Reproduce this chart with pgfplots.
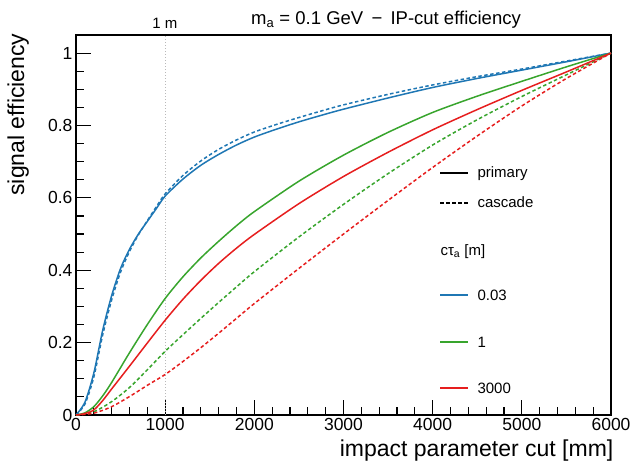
\documentclass[border=0pt]{standalone}
\usepackage{pgfplots}
\pgfplotsset{compat=1.18}
\usepackage{fontspec}
\setmainfont{Liberation Sans}
\definecolor{cblue}{RGB}{31,119,180}
\definecolor{cgreen}{RGB}{56,165,45}
\definecolor{cred}{RGB}{230,30,30}
\begin{document}
\begin{tikzpicture}
\useasboundingbox (-76pt,-51pt) rectangle (555pt,415pt);
\begin{axis}[
  at={(0pt,0pt)}, anchor=south west,
  scale only axis, width=535pt, height=380pt,
  xmin=0, xmax=6000, ymin=0, ymax=1.05,
  xtick={0,1000,...,6000}, ytick={0,0.2,...,1.0},
  minor x tick num=4, minor y tick num=3,
  xtick pos=bottom, ytick pos=left,
  tick align=inside,
  major tick length=15pt, minor tick length=8pt,
  every tick/.style={black, line width=1.1pt},
  axis line style={line width=1.3pt},
  scaled x ticks=false,
  /pgf/number format/assume math mode=true,
  xticklabel style={font=\fontsize{17.5}{20}\selectfont, /pgf/number format/1000 sep={}},
  yticklabel style={font=\fontsize{17.5}{20}\selectfont},
  yticklabel={\pgfmathprintnumber[fixed,precision=1]{\tick}},
  xlabel={impact parameter cut [mm]},
  ylabel={signal efficiency},
  label style={font=\fontsize{23}{26}\selectfont},
  xlabel style={at={(axis description cs:1.011,-0.1105)}, anchor=base east},
  ylabel style={at={(axis description cs:-0.097,1.013)}, anchor=base east},
  clip=true,
  every axis plot/.append style={smooth, tension=0.45, line join=round},
]
\addplot[gray!55, dotted, line width=1pt, sharp plot] coordinates {(1000,0) (1000,1.05)};

\addplot[cblue, line width=1.5pt, dash pattern=on 3.5pt off 2.5pt] coordinates {
(0,0) (100,0.03) (200,0.105) (300,0.222) (400,0.318) (500,0.395) (600,0.452) (700,0.498) (800,0.537) (900,0.575) (1000,0.611) (1200,0.662) (1400,0.702) (1600,0.734) (1800,0.76) (2000,0.782) (2250,0.803) (2500,0.822) (2750,0.84) (3000,0.857) (3500,0.886) (4000,0.912) (4500,0.935) (5000,0.956) (5500,0.978) (6000,1.0)};
\addplot[cgreen, line width=1.5pt, dash pattern=on 3.5pt off 2.5pt] coordinates {
(0,0) (200,0.009) (400,0.037) (600,0.076) (800,0.125) (1000,0.176) (1200,0.222) (1400,0.267) (1600,0.311) (1800,0.354) (2000,0.396) (2500,0.492) (3000,0.582) (3500,0.667) (4000,0.746) (4500,0.816) (5000,0.88) (5500,0.94) (6000,1.0)};
\addplot[cred, line width=1.5pt, dash pattern=on 3.5pt off 2.5pt] coordinates {
(0,0) (200,0.005) (400,0.023) (600,0.051) (800,0.082) (1000,0.112) (1200,0.148) (1400,0.186) (1600,0.226) (1800,0.267) (2000,0.308) (2500,0.405) (3000,0.5) (3500,0.593) (4000,0.684) (4500,0.771) (5000,0.854) (5500,0.93) (6000,1.0)};

\addplot[cblue, line width=1.5pt] coordinates {
(0,0) (100,0.035) (200,0.116) (300,0.235) (400,0.33) (500,0.405) (600,0.458) (700,0.50) (800,0.535) (900,0.57) (1000,0.605) (1200,0.652) (1400,0.69) (1600,0.72) (1800,0.746) (2000,0.768) (2250,0.79) (2500,0.81) (2750,0.828) (3000,0.845) (3500,0.876) (4000,0.905) (4500,0.93) (5000,0.953) (5500,0.976) (6000,1.0)};
\addplot[cgreen, line width=1.5pt] coordinates {
(0,0) (100,0.006) (200,0.023) (300,0.053) (400,0.09) (600,0.172) (800,0.25) (1000,0.322) (1200,0.382) (1400,0.434) (1600,0.48) (1800,0.523) (2000,0.562) (2500,0.646) (3000,0.718) (3500,0.781) (4000,0.836) (4500,0.881) (5000,0.922) (5500,0.962) (6000,1.0)};
\addplot[cred, line width=1.5pt] coordinates {
(0,0) (100,0.004) (200,0.014) (300,0.04) (400,0.072) (600,0.135) (800,0.199) (1000,0.262) (1200,0.32) (1400,0.372) (1600,0.419) (1800,0.461) (2000,0.499) (2500,0.584) (3000,0.659) (3500,0.726) (4000,0.788) (4500,0.844) (5000,0.897) (5500,0.948) (6000,1.0)};
\end{axis}
% annotations and legend (positions relative to the axis box)
\begin{scope}[x=1pt,y=1pt]
\node[anchor=base, font=\fontsize{15}{17}\selectfont] at (89,386) {1 m};
\node[anchor=base, font=\fontsize{18.5}{21}\selectfont] at (310,390) {m\textsubscript{a} = 0.1 GeV \,−\, IP-cut efficiency};
\draw[black, line width=1.5pt] (364,242) -- (392,242);
\node[anchor=base west, font=\fontsize{15}{17}\selectfont] at (398,237) {primary};
\draw[black, line width=1.5pt, dash pattern=on 3.5pt off 2.5pt] (364,212) -- (392,212);
\node[anchor=base west, font=\fontsize{15}{17}\selectfont] at (398,207) {cascade};
\node[anchor=base west, font=\fontsize{15}{17}\selectfont] at (361,160) {cτ\textsubscript{a} [m]};
\draw[cblue, line width=1.5pt] (364,120) -- (392,120);
\node[anchor=base west, font=\fontsize{15}{17}\selectfont] at (398,115) {0.03};
\draw[cgreen, line width=1.5pt] (364,73) -- (392,73);
\node[anchor=base west, font=\fontsize{15}{17}\selectfont] at (398,68) {1};
\draw[cred, line width=1.5pt] (364,27) -- (392,27);
\node[anchor=base west, font=\fontsize{15}{17}\selectfont] at (398,22) {3000};
\end{scope}
\end{tikzpicture}
\end{document}
